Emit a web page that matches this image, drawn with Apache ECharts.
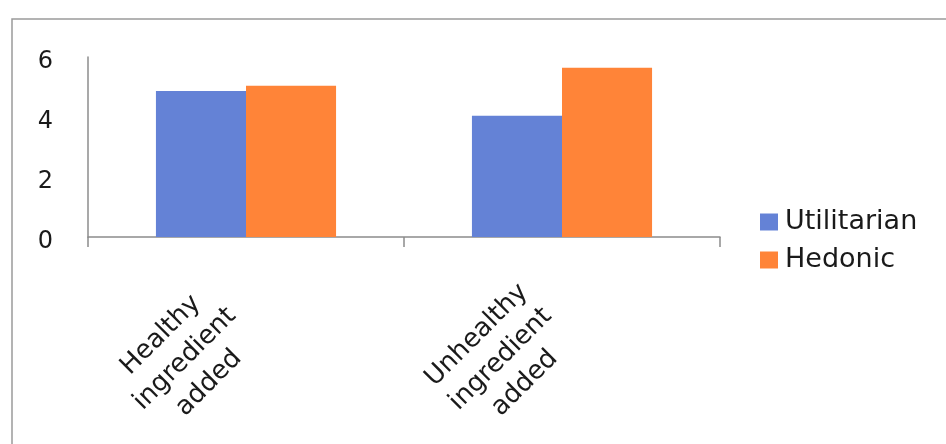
<!DOCTYPE html>
<html><head><meta charset="utf-8">
<script src="https://cdn.jsdelivr.net/npm/echarts@6/dist/echarts.min.js"></script>
<style>html,body{margin:0;padding:0;background:#fff}#c{width:946px;height:444px}</style>
</head><body><div id="c"></div>
<script>
const categories = ["Healthy ingredient added", "Unhealthy ingredient added"];
const utilitarian = [4.87, 4.04];
const hedonic = [5.04, 5.64];
const yTicks = [0, 2, 4, 6];

const chart = echarts.init(document.getElementById('c'));
const axisGray = '#8c8c8c';
const font = '"DejaVu Sans", Verdana, sans-serif';
chart.setOption({
  animation: false,
  textStyle: { fontFamily: font },
  graphic: [{
    type: 'rect', left: 9.5, top: 16.5, silent: true,
    shape: { width: 1000, height: 500 },
    style: { fill: 'none', stroke: '#9a9a9a', lineWidth: 1.5 }
  }],
  grid: { left: 88, right: 226, top: 57, bottom: 207 },
  legend: {
    orient: 'vertical', left: 755, top: 203,
    itemWidth: 18, itemHeight: 17, itemGap: 10,
    icon: 'rect',
    textStyle: { fontSize: 27, lineHeight: 28, color: '#1a1a1a', fontFamily: font, padding: [0, 0, 0, 2] },
    data: ['Utilitarian', 'Hedonic']
  },
  xAxis: {
    type: 'category', data: categories,
    axisLine: { lineStyle: { color: axisGray, width: 1.5 } },
    axisTick: { show: true, alignWithLabel: false, length: 10, lineStyle: { color: axisGray, width: 1.5 } },
    axisLabel: {
      rotate: 45, margin: 61, interval: 0,
      padding: [0, 20, 0, 0],
      fontSize: 26, color: '#1a1a1a', fontFamily: font,
      formatter: v => v.split(' ').map(w => '{c|' + w + '}').join('\n'),
      rich: { c: { align: 'center', fontSize: 26, lineHeight: 34, color: '#1a1a1a', fontFamily: font } }
    }
  },
  yAxis: {
    type: 'value', min: yTicks[0], max: yTicks[yTicks.length - 1], interval: 2,
    axisLine: { show: true, lineStyle: { color: axisGray, width: 1.5 } },
    axisTick: { show: false },
    splitLine: { show: false },
    axisLabel: { fontSize: 24, color: '#1a1a1a', margin: 35, fontFamily: font, verticalAlign: 'top', lineHeight: 10 }
  },
  series: [
    { name: 'Utilitarian', type: 'bar', data: utilitarian, barGap: '0%', barCategoryGap: '43%',
      itemStyle: { color: '#6482D6' } },
    { name: 'Hedonic', type: 'bar', data: hedonic,
      itemStyle: { color: '#FF8438' } }
  ]
});
</script></body></html>
